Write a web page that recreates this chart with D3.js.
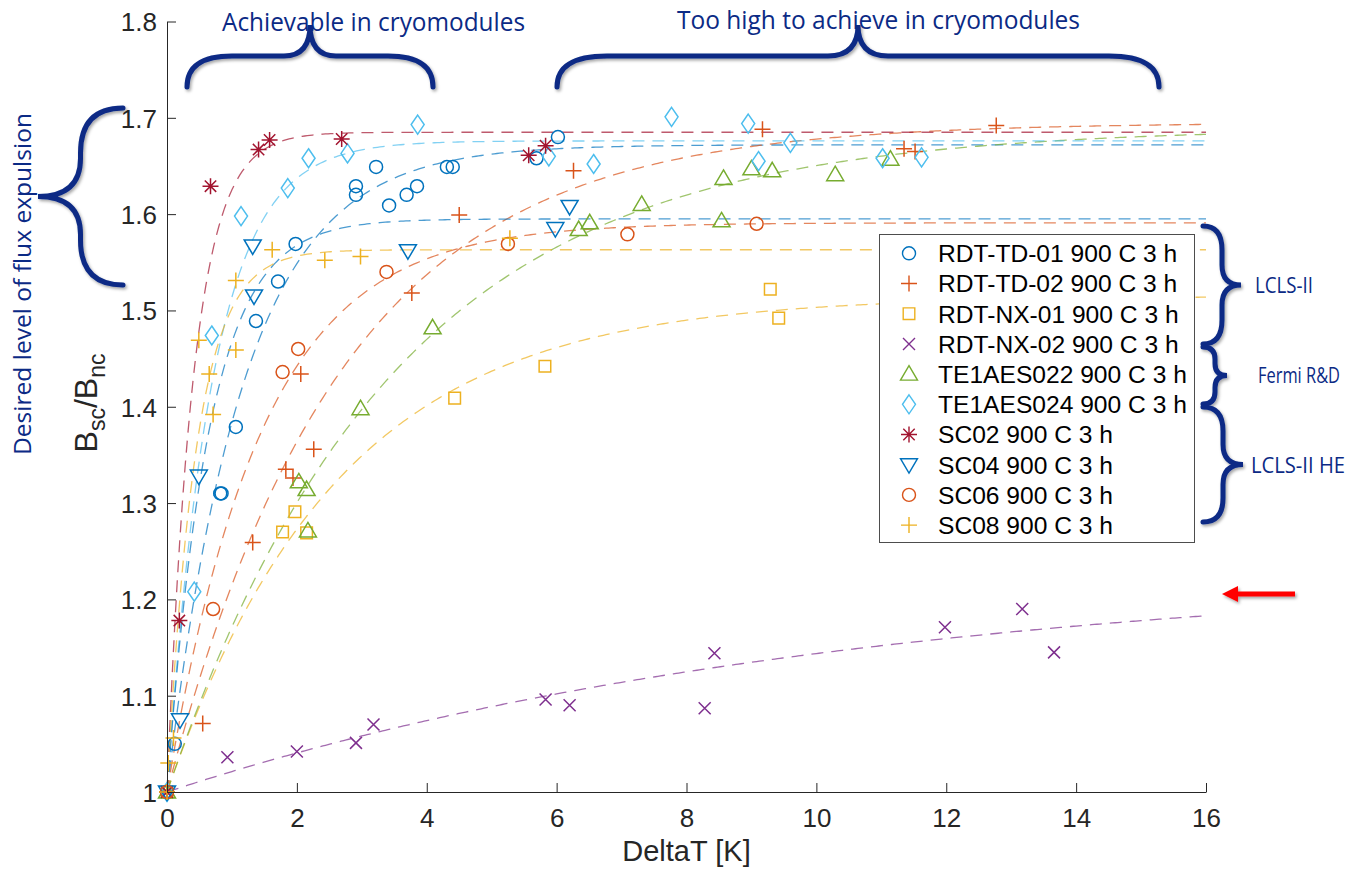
<!DOCTYPE html>
<html>
<head>
<meta charset="utf-8">
<script src="https://cdn.jsdelivr.net/npm/d3@7"></script>
<style>
  html, body { margin: 0; padding: 0; background: #fff; }
  svg { display: block; }
</style>
</head>
<body>
<svg id="chart" width="1370" height="870"></svg>
<script>
// ---- measured points: DeltaT [K] and Bsc/Bnc ----
const td01X = [0, 0.12, 0.82, 0.84, 1.06, 1.37, 1.71, 1.98, 2.91, 2.91, 3.22, 3.42, 3.69, 3.85, 4.31, 4.40, 5.69, 6.02];
const td01Y = [1, 1.050, 1.310, 1.310, 1.379, 1.489, 1.530, 1.569, 1.629, 1.620, 1.649, 1.609, 1.620, 1.629, 1.649, 1.649, 1.658, 1.680];

const td02X = [0, 0.55, 1.32, 1.83, 1.94, 2.26, 2.06, 3.77, 4.50, 6.26, 9.17, 11.35, 11.52, 12.77];
const td02Y = [1, 1.071, 1.259, 1.335, 1.326, 1.356, 1.434, 1.518, 1.599, 1.645, 1.688, 1.668, 1.665, 1.692];

const nx01X = [0, 1.78, 1.97, 2.15, 4.43, 5.82, 9.29, 9.42];
const nx01Y = [1, 1.270, 1.291, 1.269, 1.409, 1.442, 1.522, 1.492];

const nx02X = [0, 0.93, 2.00, 2.91, 3.18, 5.83, 6.20, 8.28, 8.43, 11.98, 13.17, 13.66];
const nx02Y = [1, 1.036, 1.042, 1.051, 1.070, 1.096, 1.090, 1.087, 1.144, 1.171, 1.190, 1.145];

const te022X = [0, 2.03, 2.15, 2.17, 2.98, 4.09, 6.34, 6.51, 7.31, 8.54, 8.57, 9.00, 9.32, 10.29, 11.14];
const te022Y = [1, 1.322, 1.314, 1.271, 1.398, 1.482, 1.584, 1.591, 1.610, 1.593, 1.637, 1.647, 1.645, 1.641, 1.657];

const te024X = [0, 0.42, 0.69, 1.14, 1.86, 2.18, 2.78, 3.86, 5.88, 6.57, 7.77, 8.95, 9.11, 9.60, 11.02, 11.62];
const te024Y = [1, 1.208, 1.474, 1.598, 1.627, 1.658, 1.663, 1.693, 1.660, 1.652, 1.701, 1.694, 1.655, 1.674, 1.658, 1.659];

const sc02X = [0, 0.19, 0.67, 1.41, 1.58, 2.69, 5.57, 5.83];
const sc02Y = [1, 1.178, 1.629, 1.667, 1.677, 1.678, 1.661, 1.671];

const sc04X = [0, 0.20, 0.49, 1.34, 1.32, 3.71, 5.98, 6.20];
const sc04Y = [1, 1.075, 1.328, 1.515, 1.567, 1.562, 1.585, 1.608];

const sc06X = [0, 0.71, 1.78, 2.02, 3.38, 5.25, 7.09, 9.08];
const sc06Y = [1, 1.190, 1.436, 1.460, 1.540, 1.569, 1.579, 1.590];

const sc08X = [0, 0.02, 0.10, 0.49, 0.65, 0.71, 1.06, 1.06, 1.62, 2.43, 2.98, 5.28];
const sc08Y = [1, 1.030, 1.056, 1.469, 1.434, 1.392, 1.459, 1.531, 1.563, 1.552, 1.556, 1.575];

// ---- saturation fits: B = 1 + amp * (1 - exp(-dT / tau)) ----
const fitAmp = [0.672, 0.695, 0.515, 0.234, 0.690, 0.676, 0.685, 0.595, 0.591, 0.563];
const fitTau = [1.18, 2.70, 2.65, 10.5, 3.50, 0.70, 0.41, 0.65, 1.45, 0.45];

// ---- legend names, markers, colours ----
const seriesNames = ["RDT-TD-01 900 C 3 h", "RDT-TD-02 900 C 3 h", "RDT-NX-01 900 C 3 h", "RDT-NX-02 900 C 3 h",
  "TE1AES022 900 C 3 h", "TE1AES024 900 C 3 h", "SC02 900 C 3 h", "SC04 900 C 3 h", "SC06 900 C 3 h", "SC08 900 C 3 h"];
const seriesMarkers = ["o", "+", "s", "x", "^", "d", "*", "v", "o", "+"];
const seriesColors = ["#0072BD", "#D95319", "#EDB120", "#7E2F8E", "#77AC30", "#4DBEEE", "#A2142F", "#0072BD", "#D95319", "#EDB120"];

const xTicks = [0, 2, 4, 6, 8, 10, 12, 14, 16];
const yTicks = [1, 1.1, 1.2, 1.3, 1.4, 1.5, 1.6, 1.7, 1.8];

const seriesX = [td01X, td02X, nx01X, nx02X, te022X, te024X, sc02X, sc04X, sc06X, sc08X];
const seriesY = [td01Y, td02Y, nx01Y, nx02Y, te022Y, te024Y, sc02Y, sc04Y, sc06Y, sc08Y];

const series = seriesNames.map((name, i) => ({
  name, marker: seriesMarkers[i], color: seriesColors[i],
  pts: seriesX[i].map((x, j) => [x, seriesY[i][j]]),
  amp: fitAmp[i], tau: fitTau[i]
}));

const svg = d3.select("#chart");
const x = d3.scaleLinear().domain([0, 16]).range([167, 1206]);
const y = d3.scaleLinear().domain([1, 1.8]).range([792, 21.5]);

const axisColor = "#262626";
const tickFont = "'Liberation Sans', Arial, Helvetica, sans-serif";
const navy = "#0b2a85";

// shadows for the hand-drawn annotations
const defs = svg.append("defs");
const sh = defs.append("filter").attr("id", "soft").attr("x", "-20%").attr("y", "-20%").attr("width", "140%").attr("height", "140%");
sh.append("feDropShadow").attr("dx", 1.5).attr("dy", 2).attr("stdDeviation", 1.6).attr("flood-color", "#000").attr("flood-opacity", 0.35);

// ---- fit curves ----
const grid = d3.range(0, 16.0001, 0.04);
const line = d3.line().x(d => x(d[0])).y(d => y(d[1]));
const fits = svg.append("g");
series.forEach(s => {
  const curve = grid.map(t => [t, 1 + s.amp * (1 - Math.exp(-t / s.tau))]);
  fits.append("path").attr("d", line(curve))
    .attr("fill", "none").attr("stroke", s.color).attr("stroke-width", 1.3)
    .attr("stroke-opacity", 0.7).attr("stroke-dasharray", "12,8");
});

// ---- markers ----
function markerPath(type) {
  switch (type) {
    case "o": return "M6.5,0A6.5,6.5 0 1,1 -6.5,0A6.5,6.5 0 1,1 6.5,0Z";
    case "+": return "M-8,0H8M0,-8V8";
    case "s": return "M-5.8,-5.8H5.8V5.8H-5.8Z";
    case "x": return "M-6,-6L6,6M-6,6L6,-6";
    case "^": return "M0,-8.5L8.5,6L-8.5,6Z";
    case "v": return "M0,8.5L8.5,-6L-8.5,-6Z";
    case "d": return "M0,-9.5L6.5,0L0,9.5L-6.5,0Z";
    case "*": return "M-8,0H8M0,-8V8M-5.7,-5.7L5.7,5.7M-5.7,5.7L5.7,-5.7";
  }
}
const marks = svg.append("g");
series.forEach(s => {
  marks.append("g").selectAll("path").data(s.pts).join("path")
    .attr("transform", d => `translate(${x(d[0])},${y(d[1])})`)
    .attr("d", markerPath(s.marker))
    .attr("fill", "none").attr("stroke", s.color).attr("stroke-width", 1.5);
});

// ---- axes (MATLAB-style, ticks inside, no box) ----
const xAxis = svg.append("g").attr("transform", `translate(0,${y(1)})`)
  .call(d3.axisBottom(x).tickValues(xTicks).tickSizeInner(-9).tickSizeOuter(0).tickPadding(17).tickFormat(d3.format("d")));
const yAxis = svg.append("g").attr("transform", `translate(${x(0)},0)`)
  .call(d3.axisLeft(y).tickValues(yTicks).tickSizeInner(-9).tickSizeOuter(0).tickPadding(10).tickFormat(d => d === 1 ? "1" : d3.format(".1f")(d)));
[xAxis, yAxis].forEach(a => {
  a.select(".domain").attr("stroke", axisColor).attr("stroke-width", 1);
  a.selectAll(".tick line").attr("stroke", axisColor).attr("stroke-width", 1);
  a.selectAll(".tick text").attr("fill", axisColor).attr("font-family", tickFont).attr("font-size", 26);
});
xAxis.selectAll(".tick text").attr("dy", "0.71em");
yAxis.selectAll(".tick text").attr("dy", "0.36em");

svg.append("text").attr("x", x(8)).attr("y", 861).attr("text-anchor", "middle")
  .attr("font-family", tickFont).attr("font-size", 29).attr("fill", axisColor).text("DeltaT [K]");

const yl = svg.append("text").attr("transform", "translate(97,403) rotate(-90)").attr("text-anchor", "middle")
  .attr("font-family", tickFont).attr("font-size", 32).attr("fill", axisColor);
yl.append("tspan").text("B");
yl.append("tspan").attr("font-size", 23).attr("dy", 8).text("sc");
yl.append("tspan").attr("dy", -8).text("/B");
yl.append("tspan").attr("font-size", 23).attr("dy", 8).text("nc");

// ---- legend ----
const lg = svg.append("g");
lg.append("rect").attr("x", 879.5).attr("y", 234.5).attr("width", 315).attr("height", 308)
  .attr("fill", "#fff").attr("stroke", "#4d4d4d").attr("stroke-width", 1);
series.forEach((s, i) => {
  const cy = 253.3 + i * 30.2;
  lg.append("path").attr("transform", `translate(909,${cy})`).attr("d", markerPath(s.marker))
    .attr("fill", "none").attr("stroke", s.color).attr("stroke-width", 1.4);
  lg.append("text").attr("x", 938).attr("y", cy).attr("dy", "0.36em")
    .attr("font-family", tickFont).attr("font-size", 24.6).attr("fill", "#000").text(s.name);
});

// ---- curly braces ----
function bracePath(p0, p1, nrm, depth, r1, r2) {
  const L = Math.hypot(p1[0] - p0[0], p1[1] - p0[1]);
  const u = [(p1[0] - p0[0]) / L, (p1[1] - p0[1]) / L];
  const P = (t, n) => [p0[0] + t * u[0] + n * nrm[0], p0[1] + t * u[1] + n * nrm[1]].map(v => v.toFixed(1)).join(",");
  const h = depth / 2, m = L / 2;
  return `M${P(0, 0)}Q${P(0, h)} ${P(r1, h)}L${P(m - r2, h)}Q${P(m, h)} ${P(m, depth)}` +
         `Q${P(m, h)} ${P(m + r2, h)}L${P(L - r1, h)}Q${P(L, h)} ${P(L, 0)}`;
}
const braces = svg.append("g").attr("fill", "none").attr("stroke", navy).attr("stroke-width", 5)
  .attr("stroke-linecap", "round").attr("filter", "url(#soft)");
braces.append("path").attr("d", bracePath([187, 87], [433, 87], [0, -1], 62, 45, 26));
braces.append("path").attr("d", bracePath([557, 87], [1159, 87], [0, -1], 62, 50, 30));
braces.append("path").attr("d", bracePath([123, 108], [123, 285], [-1, 0], 85, 45, 38));
braces.append("path").attr("d", bracePath([1203, 226], [1203, 344], [1, 0], 38, 24, 20));
braces.append("path").attr("d", bracePath([1203, 347], [1203, 404], [1, 0], 24, 12, 12));
braces.append("path").attr("d", bracePath([1203, 407], [1203, 522], [1, 0], 40, 24, 20));

// ---- annotation text ----
const annFont = "'Open Sans', 'Noto Sans', sans-serif";
const ann = svg.append("g").attr("fill", navy).attr("font-family", annFont);
ann.append("text").attr("x", 222).attr("y", 31).attr("font-size", 25.5)
  .attr("textLength", 303).attr("lengthAdjust", "spacingAndGlyphs").text("Achievable in cryomodules");
ann.append("text").attr("x", 677).attr("y", 29).attr("font-size", 25.5)
  .attr("textLength", 403).attr("lengthAdjust", "spacingAndGlyphs").text("Too high to achieve in cryomodules");
ann.append("text").attr("transform", "translate(31,455) rotate(-90)").attr("font-size", 24.5)
  .attr("textLength", 342).attr("lengthAdjust", "spacingAndGlyphs").text("Desired level of flux expulsion");
ann.append("text").attr("x", 1255).attr("y", 293).attr("font-size", 21.5)
  .attr("textLength", 58).attr("lengthAdjust", "spacingAndGlyphs").text("LCLS-II");
ann.append("text").attr("x", 1258).attr("y", 383).attr("font-size", 21.5)
  .attr("textLength", 82).attr("lengthAdjust", "spacingAndGlyphs").text("Fermi R&D");
ann.append("text").attr("x", 1251).attr("y", 473).attr("font-size", 21.5)
  .attr("textLength", 94).attr("lengthAdjust", "spacingAndGlyphs").text("LCLS-II HE");

// ---- red arrow ----
svg.append("path")
  .attr("d", "M1222,594L1238,586V591.5H1295V596.5H1238V602Z")
  .attr("fill", "#ff0000").attr("filter", "url(#soft)");
</script>
</body>
</html>
